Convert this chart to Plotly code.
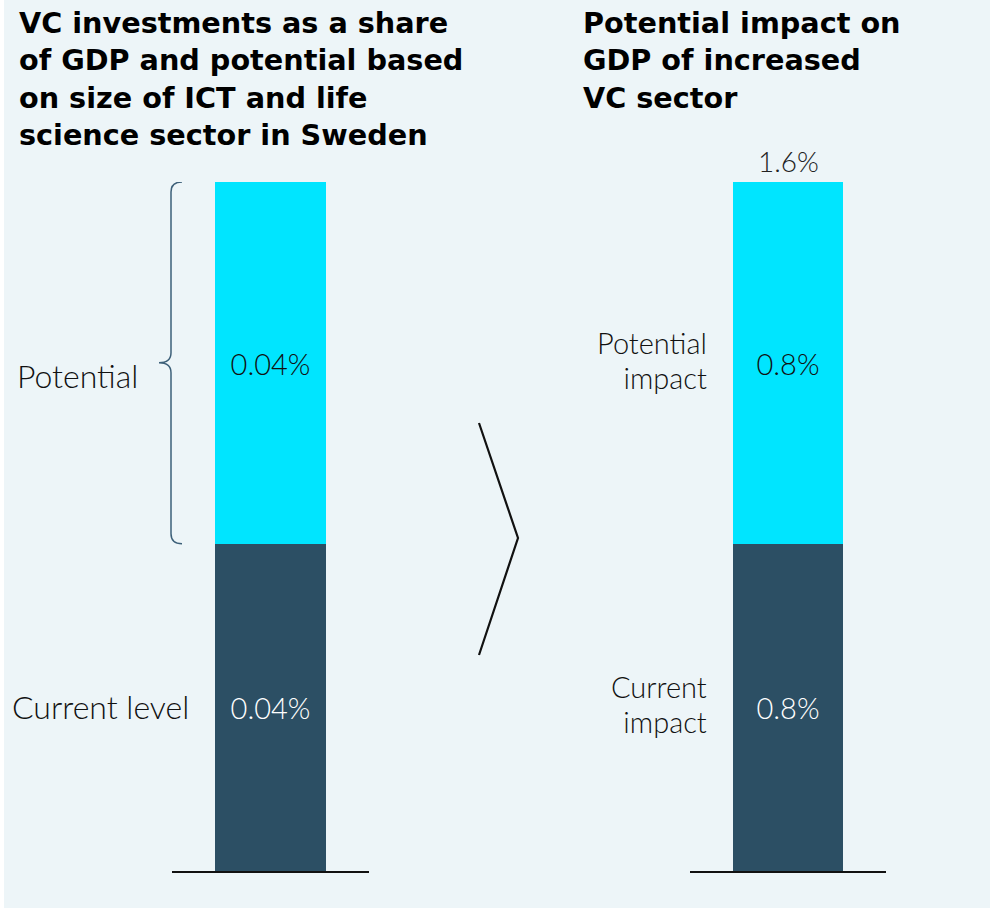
import plotly.graph_objects as go

# ---- data ----
categories = ["VC share of GDP", "Impact on GDP"]
current_values = [0.038, 0.76]      # bottom segment
potential_values = [0.042, 0.84]    # top segment
current_labels = ["0.04%", "0.8%"]
potential_labels = ["0.04%", "0.8%"]
total_label = "1.6%"
left_segment_names = ["Current level", "Potential"]
right_segment_names = [["Current", "impact"], ["Potential", "impact"]]
titles = ["VC investments as a share<br>of GDP and potential based<br>on size of ICT and life<br>science sector in Sweden",
          "Potential impact on<br>GDP of increased<br>VC sector"]

W, H = 990, 913
TOP, BOT = 182, 871
PANEL = "#EDF5F8"
CYAN = "#00E5FF"
DARK = "#2C4F64"
FONT = "Lato"
TITLE_FONT = "DejaVu Sans"
LBL = dict(size=32, family=FONT, color="#111111", weight=300)


def px(x):
    return x / W


def py(y):
    return (BOT - y) / (BOT - TOP)


fig = go.Figure()
axes = [("x", "y"), ("x2", "y2")]
for i, (xa, ya) in enumerate(axes):
    fig.add_trace(go.Bar(
        x=[categories[i]], y=[current_values[i]], xaxis=xa, yaxis=ya,
        marker=dict(color=DARK, line=dict(width=0)), width=0.563,
        text=[current_labels[i]], textposition="inside", insidetextanchor="middle",
        textfont=dict(color="white", size=29, family=FONT, weight=300), textangle=0,
        hoverinfo="skip", showlegend=False))
    fig.add_trace(go.Bar(
        x=[categories[i]], y=[potential_values[i]], xaxis=xa, yaxis=ya,
        marker=dict(color=CYAN, line=dict(width=0)), width=0.563,
        text=[potential_labels[i]], textposition="inside", insidetextanchor="middle",
        textfont=dict(color="#111111", size=29, family=FONT, weight=300), textangle=0,
        hoverinfo="skip", showlegend=False))

totals = [c + p for c, p in zip(current_values, potential_values)]

axis_common = dict(showgrid=False, zeroline=False, showticklabels=False, ticks="")
fig.update_layout(
    width=W, height=H, barmode="stack", bargap=0,
    margin=dict(l=0, r=0, t=TOP, b=H - BOT, pad=0),
    paper_bgcolor="white", plot_bgcolor="rgba(0,0,0,0)",
    xaxis=dict(domain=[px(172), px(369)], range=[-0.5, 0.5], showline=True,
               linecolor="#111111", linewidth=2, **axis_common),
    xaxis2=dict(domain=[px(690), px(886)], range=[-0.5, 0.5], showline=True,
                linecolor="#111111", linewidth=2, anchor="y2", **axis_common),
    yaxis=dict(domain=[0, 1], range=[0, totals[0]], showline=False, **axis_common),
    yaxis2=dict(domain=[0, 1], range=[0, totals[1]], anchor="x2", showline=False, **axis_common),
    font=dict(family=FONT, color="#111111"),
)

shapes = []
# panel background
shapes.append(dict(type="rect", xref="paper", yref="paper", x0=px(4), x1=1.0,
                   y0=py(908), y1=py(0), fillcolor=PANEL, line=dict(width=0), layer="below"))

# brace on the left bar, spanning the potential segment
c0, t0 = current_values[0], totals[0]
mid = (c0 + t0) / 2
d = (t0 / (BOT - TOP)) * 10  # ~10 px in data units
xe, xl, xp = px(182), px(171), px(159)
path = (f"M {xe},{t0} Q {xl},{t0} {xl},{t0 - d} L {xl},{mid + d} "
        f"Q {xl},{mid} {xp},{mid} Q {xl},{mid} {xl},{mid - d} "
        f"L {xl},{c0 + d} Q {xl},{c0} {xe},{c0}")
shapes.append(dict(type="path", xref="paper", yref="y", path=path,
                   line=dict(color="#3D6079", width=1.5)))

# chevron between the two panels
chev = f"M {px(479)},{py(423)} L {px(518)},{py(538)} L {px(479)},{py(655)}"
shapes.append(dict(type="path", xref="paper", yref="paper", path=chev,
                   line=dict(color="#111111", width=2.2)))
fig.update_layout(shapes=shapes)

ann = []
# titles
for txt, x0 in zip(titles, [17, 581]):
    ann.append(dict(text=f"<b>{txt}</b>", xref="paper", yref="paper", x=px(x0), y=py(4),
                    xanchor="left", yanchor="top", align="left", showarrow=False,
                    font=dict(family=TITLE_FONT, size=28.7, color="#000000")))
# left segment labels
ann.append(dict(text=left_segment_names[0], xref="paper", yref="y", x=px(191), y=c0 / 2,
                xanchor="right", yanchor="middle", align="right", showarrow=False,
                yshift=1, font=LBL))
ann.append(dict(text=left_segment_names[1], xref="paper", yref="y", x=px(140), y=mid,
                xanchor="right", yanchor="middle", align="right", showarrow=False,
                yshift=-13, font=LBL))
# right segment labels (two lines each: base size sets line spacing)
c1, t1 = current_values[1], totals[1]
centers = [c1 / 2, (c1 + t1) / 2]
for name_lines, yc in zip(right_segment_names, centers):
    txt = "<br>".join(f"<span style='font-size:29px'>{s}</span>" for s in name_lines)
    ann.append(dict(text=txt, xref="paper", yref="y2", x=px(709), y=yc,
                    xanchor="right", yanchor="middle", align="right", showarrow=False,
                    yshift=3, font=dict(size=27, family=FONT, color="#111111", weight=300)))
# total label above right bar
ann.append(dict(text=total_label, xref="x2", yref="y2", x=categories[1], y=t1,
                xanchor="center", yanchor="bottom", yshift=2, showarrow=False,
                font=dict(size=28, family=FONT, color="#222222", weight=300)))
fig.update_layout(annotations=ann)

fig.write_html("out.html", config={"displayModeBar": False},
               post_script="document.body.style.margin='0px';")
